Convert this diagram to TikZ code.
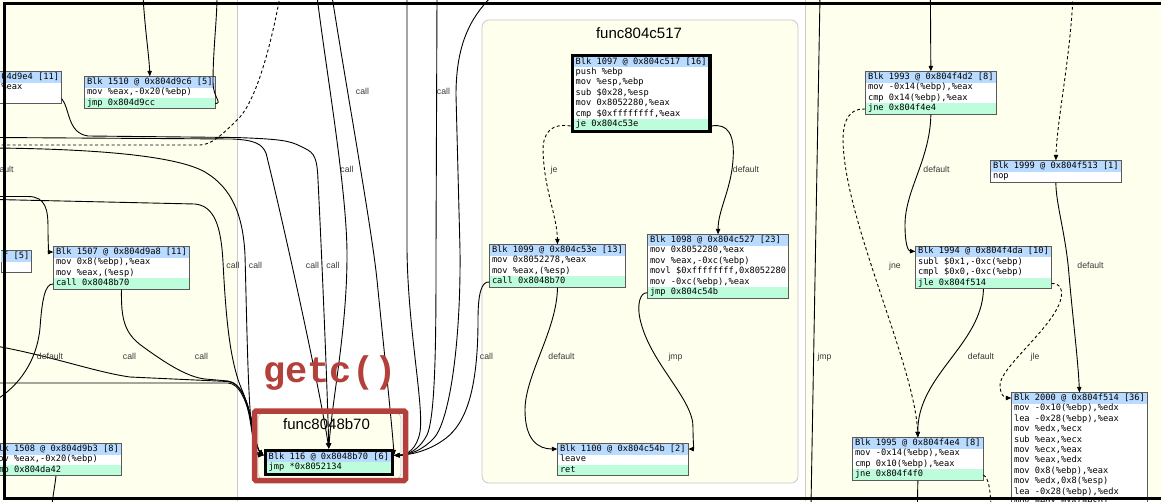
\documentclass[tikz,border=0pt]{standalone}
\usepackage{fontspec}
\usepackage{colortbl}
\usetikzlibrary{arrows.meta}
\setmonofont{DejaVu Sans Mono}
\setsansfont{Liberation Sans}
\newfontfamily\hlfont{Liberation Mono}
\definecolor{cfgivory}{HTML}{FFFFEE}
\definecolor{cfghead}{HTML}{B9DBFF}
\definecolor{cfgtail}{HTML}{BDFDDC}
\definecolor{cfgframe}{HTML}{5A5A5A}
\definecolor{cfgcluster}{HTML}{C9C9C9}
\definecolor{cfglabel}{HTML}{3A3A3A}
\definecolor{cfgmark}{HTML}{B3403A}
\newcommand{\blkfont}{\ttfamily\fontsize{8.7}{10.4}\selectfont}
\newcommand{\blkhd}{\rowcolor{cfghead}}
\newcommand{\blktl}{\rowcolor{cfgtail}}
\newcommand{\blk}[1]{\setlength{\tabcolsep}{1.8pt}\begin{tabular}{l}#1\end{tabular}}

\begin{document}
\begin{tikzpicture}[
  x=1pt,
  y=-1pt,
  blk/.style={draw=cfgframe, line width=0.8pt, inner sep=0.4pt, fill=white, font=\blkfont},
  blkhot/.style={blk, draw=black, line width=3.2pt, inner sep=1.6pt},
  link/.style={black, line width=0.9pt},
  flow/.style={link, -{Triangle[length=5.5pt,width=4.4pt]}},
  jump/.style={dash pattern=on 3pt off 2.5pt},
  lbl/.style={font=\sffamily\fontsize{8.7}{10}\selectfont, text=cfglabel, inner sep=0pt, anchor=mid},
  ttl/.style={font=\sffamily\fontsize{15}{18}\selectfont, inner sep=0pt, anchor=base},
  cluster/.style={fill=cfgivory, draw=cfgcluster, line width=0.8pt}
]
  \useasboundingbox (0,0) rectangle (1161,501);
  \clip (0,0) rectangle (1161,501);

  % ---- backgrounds and clusters ----------------------------------------
  \fill[white] (0,0) rectangle (1161,501);
  \fill[cfgivory] (0,0) rectangle (237.5,501);
  \draw[cfgcluster, line width=0.8pt] (237.5,0) -- (237.5,501);
  \fill[cfgivory] (805.5,0) rectangle (1161,501);
  \draw[cfgcluster, line width=0.8pt] (805.5,0) -- (805.5,501);
  \draw[cluster, rounded corners=7pt] (482,20) rectangle (798,483);
  \draw[cluster, rounded corners=5pt] (258,413) rectangle (401,479);
  \node[ttl] (t517) at (639,38) {func804c517};
  \node[ttl] (t8b70) at (326.5,429) {func8048b70};

  % ---- blocks, left cluster --------------------------------------------
  \node[blk, anchor=north east] (b9e4) at (61.6,71.4)
    {\blk{\blkhd 04d9e4 [11]\\ \%eax\\ \\ \blktl }};
  \node[blk, anchor=north west] (b1510) at (84.4,76.4)
    {\blk{\blkhd Blk 1510 @ 0x804d9c6 [5]\\ mov \%eax,-0x20(\%ebp)\\ \blktl jmp 0x804d9cc}};
  \node[blk, anchor=north east] (b9af) at (32,250.4)
    {\blk{\blkhd f [5]\\ \\ \blktl }};
  \node[blk, anchor=north west] (b1507) at (53.4,246.4)
    {\blk{\blkhd Blk 1507 @ 0x804d9a8 [11]\\ mov 0x8(\%ebp),\%eax\\ mov \%eax,(\%esp)\\ \blktl call 0x8048b70}};
  \node[blk, anchor=north east] (b1508) at (121.4,443.4)
    {\blk{\blkhd Blk 1508 @ 0x804d9b3 [8]\\ mov \%eax,-0x20(\%ebp)\\ \blktl jmp 0x804da42}};

  % ---- blocks, func8048b70 and func804c517 -----------------------------
  \node[blkhot, anchor=north west] (b116) at (263.6,448.6)
    {\blk{\blkhd Blk 116 @ 0x8048b70 [6]\\ \blktl jmp *0x8052134}};
  \node[blkhot, anchor=north west] (b1097) at (570.6,53.6)
    {\blk{\blkhd Blk 1097 @ 0x804c517 [16]\\ push \%ebp\\ mov \%esp,\%ebp\\ sub \$0x28,\%esp\\ mov 0x8052280,\%eax\\ cmp \$0xffffffff,\%eax\\ \blktl je 0x804c53e}};
  \node[blk, anchor=north west] (b1099) at (489.4,244.4)
    {\blk{\blkhd Blk 1099 @ 0x804c53e [13]\\ mov 0x8052278,\%eax\\ mov \%eax,(\%esp)\\ \blktl call 0x8048b70}};
  \node[blk, anchor=north west] (b1098) at (647.4,234.4)
    {\blk{\blkhd Blk 1098 @ 0x804c527 [23]\\ mov 0x8052280,\%eax\\ mov \%eax,-0xc(\%ebp)\\ movl \$0xffffffff,0x8052280\\ mov -0xc(\%ebp),\%eax\\ \blktl jmp 0x804c54b}};
  \node[blk, anchor=north west] (b1100) at (557.4,443.4)
    {\blk{\blkhd Blk 1100 @ 0x804c54b [2]\\ leave\\ \blktl ret}};

  % ---- blocks, right cluster -------------------------------------------
  \node[blk, anchor=north west] (b1993) at (865.4,71.4)
    {\blk{\blkhd Blk 1993 @ 0x804f4d2 [8]\\ mov -0x14(\%ebp),\%eax\\ cmp 0x14(\%ebp),\%eax\\ \blktl jne 0x804f4e4}};
  \node[blk, anchor=north west] (b1999) at (990.4,160.4)
    {\blk{\blkhd Blk 1999 @ 0x804f513 [1]\\ nop}};
  \node[blk, anchor=north west] (b1994) at (915.4,245.9)
    {\blk{\blkhd Blk 1994 @ 0x804f4da [10]\\ subl \$0x1,-0xc(\%ebp)\\ cmpl \$0x0,-0xc(\%ebp)\\ \blktl jle 0x804f514}};
  \node[blk, anchor=north west] (b2000) at (1011.4,392.4)
    {\blk{\blkhd Blk 2000 @ 0x804f514 [36]\\ mov -0x10(\%ebp),\%edx\\ lea -0x28(\%ebp),\%eax\\ mov \%edx,\%ecx\\ sub \%eax,\%ecx\\ mov \%ecx,\%eax\\ mov \%eax,\%edx\\ mov 0x8(\%ebp),\%eax\\ mov \%edx,0x8(\%esp)\\ lea -0x28(\%ebp),\%edx\\ mov \%edx,0x4(\%esp)}};
  \node[blk, anchor=north west] (b1995) at (852.4,437.4)
    {\blk{\blkhd Blk 1995 @ 0x804f4e4 [8]\\ mov -0x14(\%ebp),\%eax\\ cmp 0x10(\%ebp),\%eax\\ \blktl jne 0x804f4f0}};

  % ---- row ports and free ends -----------------------------------------
  \coordinate (p9e4) at ([yshift=5.6pt]b9e4.south east);
  \coordinate (p1510) at ([yshift=5.6pt]b1510.south east);
  \coordinate (h1507) at ([yshift=-5.6pt]b1507.north west);
  \coordinate (p1507) at ([yshift=5.6pt]b1507.south west);
  \coordinate (h116w) at ([yshift=-6.8pt]b116.north west);
  \coordinate (h116e) at ([yshift=-6.8pt]b116.north east);
  \coordinate (p1097w) at ([yshift=6.8pt]b1097.south west);
  \coordinate (p1097e) at ([yshift=6.8pt]b1097.south east);
  \coordinate (p1099) at ([yshift=5.6pt]b1099.south west);
  \coordinate (p1098) at ([yshift=5.6pt]b1098.south west);
  \coordinate (h1100w) at ([yshift=-5.6pt]b1100.north west);
  \coordinate (h1100e) at ([yshift=-5.6pt]b1100.north east);
  \coordinate (p1993) at ([yshift=5.6pt]b1993.south west);
  \coordinate (h1994) at ([yshift=-5.6pt]b1994.north west);
  \coordinate (p1994) at ([yshift=5.6pt]b1994.south east);
  \coordinate (h2000) at ([yshift=-5.6pt]b2000.north west);
  \coordinate (p1995) at ([yshift=5.6pt]b1995.south east);
  \coordinate (edgeA) at (-4,137.5);
  \coordinate (edgeB) at (-4,145);
  \coordinate (edgeC) at (-4,148);
  \coordinate (edgeD) at (-4,196.5);
  \coordinate (edgeE) at (-4,199.5);
  \coordinate (edgeF) at (-4,400);
  \coordinate (edgeG) at (-4,346);
  \coordinate (edgeH) at (-4,383);
  \coordinate (in1510) at (143,-4);
  \coordinate (out1510) at (217,-4);
  \coordinate (outdash) at (280,-4);
  \coordinate (out1508) at (52,505);
  \coordinate (inA) at (317,-4);
  \coordinate (inB) at (332,-4);
  \coordinate (inC) at (407,-4);
  \coordinate (inD) at (437,-4);
  \coordinate (inE) at (492,-4);
  \coordinate (inJ) at (820,-4);
  \coordinate (outJ) at (811,505);
  \coordinate (in1993) at (930.4,-4);
  \coordinate (in1999) at (1073,-4);
  \coordinate (out1995) at (917.4,505);
  \coordinate (out1995d) at (991,505);

  % ---- edges, left cluster ---------------------------------------------
  \draw[flow] (in1510) .. controls (145,30) and (149,55) .. (b1510.north);
  \draw[link] (p1510) .. controls (223,103) and (213,98) .. (213,82)
    .. controls (213,50) and (217,20) .. (out1510);
  \draw[link, jump] (edgeB) -- (200,145) .. controls (212,145) and (225,132) .. (240,117)
    .. controls (258,96) and (272,40) .. (outdash);
  \draw[link] (p1507) .. controls (45,283) and (42,300) .. (40,328)
    .. controls (37,360) and (20,385) .. (edgeF);
  \draw[flow] (edgeD) -- (28,196.5) .. controls (46,196.5) and (48,210) .. (48,228)
    .. controls (48,246) and (49,252) .. (h1507);
  \draw[link] (b1508.south) .. controls (55,485) and (53,495) .. (out1508);

  % ---- edges into func8048b70 ------------------------------------------
  \draw[flow] (p9e4) .. controls (70,108) and (67,133) .. (88,136) -- (235,137.5)
    .. controls (282,139) and (290,141) .. (300,146) .. controls (312,152) and (317,152) .. (318,180)
    .. controls (322,260) and (327,380) .. (b116.north);
  \draw[flow] (edgeA) -- (232,139) .. controls (255,140) and (262,144) .. (266,153)
    .. controls (285,230) and (320,390) .. (b116.north);
  \draw[flow] (inA) .. controls (326,70) and (347,190) .. (347,255)
    .. controls (347,330) and (332,400) .. (b116.north);
  \draw[flow] (edgeC) .. controls (90,149) and (175,155) .. (205,172)
    .. controls (232,188) and (243,215) .. (245,255) .. controls (247,330) and (248,400) .. (252,430)
    .. controls (254,445) and (256,455) .. (h116w);
  \draw[flow] (edgeE) -- (195,204) .. controls (214,206) and (221,225) .. (223,262)
    .. controls (226,320) and (230,362) .. (242,390) .. controls (252,412) and (252,452) .. (h116w);
  \draw[flow] (b1507.south) .. controls (121,318) and (124,333) .. (142,346)
    .. controls (168,365) and (188,377) .. (205,379) -- (228,381)
    .. controls (252,384) and (253,445) .. (h116w);
  \draw[flow] (edgeG) .. controls (55,357) and (95,372) .. (130,377) -- (228,381.5)
    .. controls (252,384) and (253,445) .. (h116w);
  \draw[flow] (edgeH) -- (228,383) .. controls (250,384) and (253,445) .. (h116w);
  \draw[flow] (inB) .. controls (345,80) and (372,230) .. (377,280)
    .. controls (383,340) and (392,425) .. (h116e);
  \draw[flow] (inC) -- (407,250) .. controls (408,330) and (424,405) .. (420,432)
    .. controls (417,448) and (408,455) .. (h116e);
  \draw[flow] (inD) -- (436,250) .. controls (436,330) and (436,415) .. (427,435)
    .. controls (419,450) and (408,455) .. (h116e);
  \draw[flow] (inE) .. controls (470,18) and (456,45) .. (456,95) -- (460,250)
    .. controls (461,340) and (450,420) .. (434,438) .. controls (422,451) and (408,455) .. (h116e);
  \draw[flow] (p1099) .. controls (481,281) and (478,295) .. (478,320)
    .. controls (478,400) and (462,428) .. (442,441) .. controls (426,452) and (408,455) .. (h116e);

  % ---- edges, func804c517 ----------------------------------------------
  \draw[flow, jump] (p1097w) .. controls (552,123) and (543,132) .. (543,150)
    .. controls (544,190) and (557,215) .. (b1099.north);
  \draw[flow] (p1097e) .. controls (728,123) and (735,135) .. (733,160)
    .. controls (731,190) and (718,210) .. (b1098.north);
  \draw[flow] (b1099.south) .. controls (557,330) and (525,375) .. (525,410)
    .. controls (525,440) and (538,449) .. (h1100w);
  \draw[flow] (p1098) .. controls (640,292) and (636,305) .. (641,323)
    .. controls (652,365) and (694,400) .. (693,428) .. controls (693,442) and (694,449) .. (h1100e);

  % ---- edges, right cluster --------------------------------------------
  \draw[link] (inJ) -- (outJ);
  \draw[flow] (in1993) -- (b1993.north);
  \draw[flow, jump] (in1999) .. controls (1070,60) and (1057,120) .. (b1999.north);
  \draw[flow, jump] (p1993) .. controls (851,108) and (843,118) .. (843,140)
    .. controls (844,220) and (915,365) .. (b1995.north);
  \draw[flow] (b1993.south) .. controls (930,160) and (905,190) .. (905,225)
    .. controls (905,244) and (908,251) .. (h1994);
  \draw[flow] (b1999.south) .. controls (1056,205) and (1066,235) .. (1069,275)
    .. controls (1073,320) and (1078,360) .. (b2000.north);
  \draw[flow] (b1994.south) .. controls (982,345) and (917,375) .. (b1995.north);
  \draw[flow, jump] (p1994) .. controls (1060,283) and (1064,290) .. (1060,302)
    .. controls (1050,330) and (1000,368) .. (1000,385) .. controls (1000,395) and (1005,398) .. (h2000);
  \draw[link] (b1995.south) -- (out1995);
  \draw[link, jump] (p1995) .. controls (989,478) and (990,490) .. (out1995d);

  % ---- edge labels -----------------------------------------------------
  \foreach \pos/\txt [count=\i] in {{(0.5,170)}/default, {(233,266)}/call, {(255.5,266)}/call,
      {(312.5,266)}/call, {(333,266)}/call, {(347,170)}/call, {(362.5,92)}/call,
      {(443.5,92)}/call, {(50,357)}/default, {(129.5,357)}/call, {(201.5,357)}/call,
      {(486.5,357)}/call, {(554,170)}/je, {(746,170)}/default, {(561.5,357)}/default,
      {(675.5,357)}/jmp, {(824.5,357)}/jmp, {(936.5,170)}/default, {(895,266)}/jne,
      {(1090.5,266)}/default, {(981,357)}/default, {(1035,357)}/jle}
    \node[lbl] (lab\i) at \pos {\txt};

  % ---- highlight ---------------------------------------------------------
  \draw[cfgmark, line width=5.5pt, rounded corners=1.5pt] (254.5,411) rectangle (405.5,480.5);
  \node[text=cfgmark, font=\hlfont\bfseries\fontsize{37}{40}\selectfont, inner sep=0pt, anchor=base]
    (getc) at (330,382) {getc()};

  % ---- viewer frame ------------------------------------------------------
  \draw[black, line width=3pt] (4,3.5) rectangle (1170,498.5);
\end{tikzpicture}
\end{document}
